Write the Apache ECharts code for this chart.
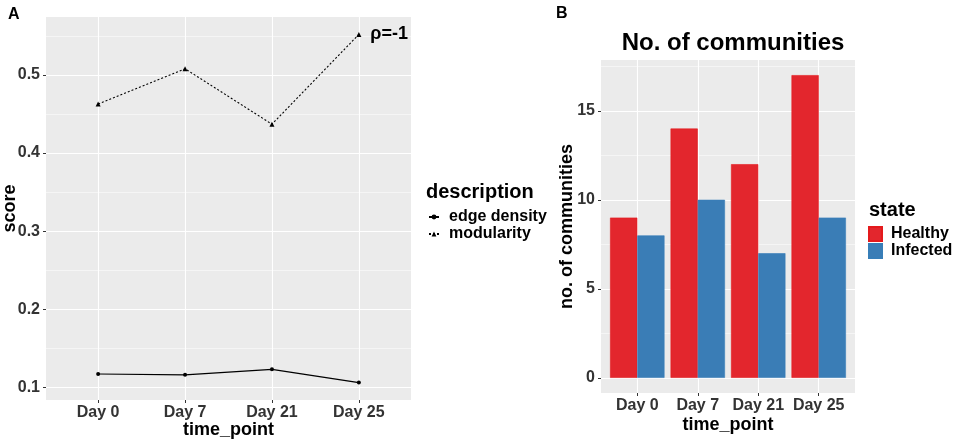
<!DOCTYPE html>
<html>
<head>
<meta charset="utf-8">
<script src="https://cdn.jsdelivr.net/npm/echarts@6/dist/echarts.min.js"></script>
<style>html,body{margin:0;padding:0;background:#fff}#c{width:957px;height:440px}</style>
</head>
<body>
<div id="c"></div>
<script>
// ---- data ----
const timePoints = ['Day 0', 'Day 7', 'Day 21', 'Day 25'];
const edgeDensity = [0.117, 0.116, 0.123, 0.106];
const modularity = [0.463, 0.508, 0.437, 0.552];
const scoreTicks = [0.1, 0.2, 0.3, 0.4, 0.5];
const scoreMinorTicks = [0.15, 0.25, 0.35, 0.45, 0.55];
const healthy = [9, 14, 12, 17];
const infected = [8, 10, 7, 9];
const countTicks = [0, 5, 10, 15];
const countMinorTicks = [2.5, 7.5, 12.5, 17.5];
const rhoLabel = 'ρ=-1';

// ---- helpers ----
const FONT = 'Liberation Sans';
const idx = timePoints.map((_, i) => i);
const allScores = edgeDensity.concat(modularity);
const sMin = Math.min(...allScores), sMax = Math.max(...allScores);
const sPad = (sMax - sMin) * 0.05;
const cMax = Math.max(...healthy, ...infected);
const cPad = cMax * 0.05;
const xMin = -0.6, xMax = timePoints.length - 1 + 0.6;

function xAxisDef(gridIndex, nameGap) {
  return {
    type: 'value', gridIndex, min: xMin, max: xMax,
    name: 'time_point', nameLocation: 'middle', nameGap, nameMoveOverlap: false,
    nameTextStyle: { fontFamily: FONT, fontSize: 18, fontWeight: 'bold', color: '#000' },
    axisLine: { show: false, onZero: false },
    axisTick: { show: true, length: 3, lineStyle: { color: '#333', width: 1 }, customValues: idx },
    axisLabel: { customValues: idx, formatter: v => timePoints[Math.round(v)], margin: 5,
      fontFamily: FONT, fontSize: 16, fontWeight: 'bold', color: '#333' },
    splitLine: { show: true, lineStyle: { color: '#fff', width: 1.1 } }
  };
}
function yMajor(gridIndex, min, max, ticks, name, nameGap, fmt) {
  return {
    type: 'value', gridIndex, min, max, position: 'left',
    name, nameLocation: 'middle', nameGap, nameRotate: 90, nameMoveOverlap: false,
    nameTextStyle: { fontFamily: FONT, fontSize: 18, fontWeight: 'bold', color: '#000' },
    axisLine: { show: false, onZero: false },
    axisTick: { show: true, length: 3, lineStyle: { color: '#333', width: 1 }, customValues: ticks },
    axisLabel: { customValues: ticks, formatter: fmt, margin: 6,
      fontFamily: FONT, fontSize: 16, fontWeight: 'bold', color: '#333' },
    splitLine: { show: true, lineStyle: { color: '#fff', width: 1.1 } }
  };
}
function yMinor(gridIndex, min, max, ticks) {
  return {
    type: 'value', gridIndex, min, max, position: 'left',
    axisLine: { show: false, onZero: false },
    axisTick: { show: false, customValues: ticks },
    axisLabel: { show: false, customValues: ticks },
    splitLine: { show: true, lineStyle: { color: '#fff', width: 0.5 } }
  };
}

const option = {
  animation: false,
  backgroundColor: '#fff',
  title: [
    { text: 'A', left: 3, top: 2, textStyle: { fontFamily: FONT, fontSize: 16, fontWeight: 'bold', color: '#000' } },
    { text: 'B', left: 551, top: 1, textStyle: { fontFamily: FONT, fontSize: 16, fontWeight: 'bold', color: '#000' } },
    { text: 'No. of communities', left: 728, textAlign: 'center', top: 26,
      textStyle: { fontFamily: FONT, fontSize: 24, fontWeight: 'bold', color: '#000' } },
    { text: 'description', left: 421, top: 177, textStyle: { fontFamily: FONT, fontSize: 20, fontWeight: 'bold', color: '#000' } },
    { text: 'state', left: 864, top: 195, textStyle: { fontFamily: FONT, fontSize: 20, fontWeight: 'bold', color: '#000' } }
  ],
  legend: [
    { data: ['edge density', 'modularity'], orient: 'vertical', left: 428, top: 209,
      itemWidth: 10, itemHeight: 6, itemGap: 1, padding: 0,
      textStyle: { fontFamily: FONT, fontSize: 16, fontWeight: 'bold', color: '#000', padding: [0, 0, 0, 5] } },
    { data: ['Healthy', 'Infected'], orient: 'vertical', left: 868, top: 226,
      itemWidth: 13, itemHeight: 14, itemGap: 1, padding: 0, icon: 'rect',
      textStyle: { fontFamily: FONT, fontSize: 16, fontWeight: 'bold', color: '#000', padding: [0, 0, 0, 4] } }
  ],
  grid: [
    { left: 46, top: 17, width: 365, height: 383, show: true, backgroundColor: '#EBEBEB', borderWidth: 0,
      outerBoundsMode: 'none', containLabel: false },
    { left: 601, top: 60, width: 254, height: 333, show: true, backgroundColor: '#EBEBEB', borderWidth: 0,
      outerBoundsMode: 'none', containLabel: false }
  ],
  xAxis: [ xAxisDef(0, 21), xAxisDef(1, 23) ],
  yAxis: [
    yMajor(0, sMin - sPad, sMax + sPad, scoreTicks, 'score', 27, v => v.toFixed(1)),
    yMinor(0, sMin - sPad, sMax + sPad, scoreMinorTicks),
    yMajor(1, -cPad, cMax + cPad, countTicks, 'no. of communities', 25, v => String(v)),
    yMinor(1, -cPad, cMax + cPad, countMinorTicks)
  ],
  series: [
    { name: 'edge density', type: 'line', xAxisIndex: 0, yAxisIndex: 0,
      data: edgeDensity.map((v, i) => [i, v]),
      symbol: 'circle', symbolSize: 4, color: '#000',
      lineStyle: { color: '#000', width: 1.2, type: 'solid' }, itemStyle: { color: '#000' } },
    { name: 'modularity', type: 'line', xAxisIndex: 0, yAxisIndex: 0,
      data: modularity.map((v, i) => {
        const d = { value: [i, v] };
        if (i === modularity.length - 1) {
          d.label = { show: true, formatter: rhoLabel, position: 'right', distance: 9,
            fontFamily: FONT, fontSize: 18, fontWeight: 'bold', color: '#000' };
        }
        return d;
      }),
      symbol: 'triangle', symbolSize: 5, color: '#000',
      lineStyle: { color: '#000', width: 1.1, type: [2, 2] }, itemStyle: { color: '#000' } },
    { name: 'Healthy', type: 'bar', xAxisIndex: 1, yAxisIndex: 2,
      data: healthy.map((v, i) => [i, v]), barWidth: '45%', barGap: '0%',
      itemStyle: { color: '#E3262D', borderColor: '#E41A1C', borderWidth: 0.6 } },
    { name: 'Infected', type: 'bar', xAxisIndex: 1, yAxisIndex: 2,
      data: infected.map((v, i) => [i, v]), barWidth: '45%', barGap: '0%',
      itemStyle: { color: '#3A7DB6', borderColor: '#377EB8', borderWidth: 0.6 } }
  ]
};
const chart = echarts.init(document.getElementById('c'), null, { renderer: 'canvas' });
chart.setOption(option);
</script>
</body>
</html>
